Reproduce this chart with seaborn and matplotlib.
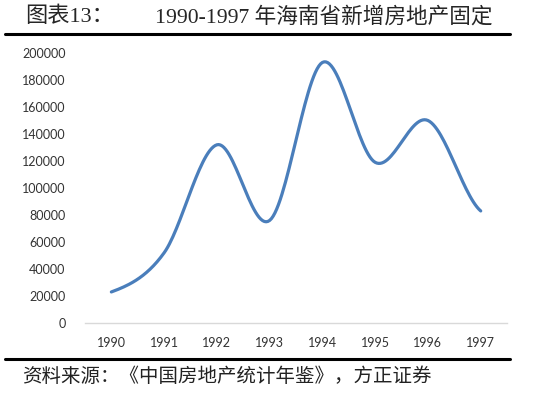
import numpy as np
import pandas as pd
import seaborn as sns
import matplotlib
matplotlib.use("Agg")
import matplotlib.pyplot as plt

years = ["1990", "1991", "1992", "1993", "1994", "1995", "1996", "1997"]
values = [23000, 52000, 132000, 76000, 193000, 119000, 150000, 83000]
y_ticks = [0, 20000, 40000, 60000, 80000, 100000, 120000, 140000, 160000, 180000, 200000]

title_left = "图表13："
title_right = "1990-1997 年海南省新增房地产固定"
source = "资料来源：《中国房地产统计年鉴》，方正证券"

sns.set_style("white")
cjk = ['Liberation Serif', 'Noto Sans CJK SC', 'DejaVu Sans']


def smooth_curve(ys, n=30):
    # excel-like smoothed line (catmull-rom through the points)
    pts = np.array(ys, dtype=float)
    xs_all, ys_all = [], []
    p = np.concatenate([[pts[0]], pts, [pts[-1]]])
    for i in range(len(pts) - 1):
        p0, p1, p2, p3 = p[i], p[i + 1], p[i + 2], p[i + 3]
        t = np.linspace(0, 1, n, endpoint=(i == len(pts) - 2))
        y = 0.5 * ((2 * p1) + (-p0 + p2) * t + (2 * p0 - 5 * p1 + 4 * p2 - p3) * t ** 2
                   + (-p0 + 3 * p1 - 3 * p2 + p3) * t ** 3)
        xs_all.append(i + t)
        ys_all.append(y)
    return np.concatenate(xs_all), np.concatenate(ys_all)


sx, sy = smooth_curve(values)
curve = pd.DataFrame({"x": sx, "y": sy})

fig = plt.figure(figsize=(5.5, 3.97), dpi=100)
ax = fig.add_axes([0.1545, 0.1864, 0.7675, 0.6801])

sns.lineplot(data=curve, x="x", y="y", ax=ax, color="#4a7ebb", lw=2.3, sort=False)

ax.set_xlim(-0.5, len(years) - 0.5)
ax.set_ylim(0, 200000)
ax.set_xticks(range(len(years)))
ax.set_xticklabels(years)
ax.set_yticks(y_ticks)
ax.set_yticklabels([str(v) for v in y_ticks])
ax.set_xlabel("")
ax.set_ylabel("")
for lab in ax.get_xticklabels() + ax.get_yticklabels():
    lab.set_fontfamily("Lato")
    lab.set_fontsize(9)
    lab.set_color("#333333")
ax.tick_params(axis="x", length=0, pad=10)
ax.tick_params(axis="y", length=0, pad=14)
for s in ["top", "right", "left"]:
    ax.spines[s].set_visible(False)
ax.spines["bottom"].set_color("#d9d9d9")
ax.spines["bottom"].set_linewidth(1)

# header / footer
fig.text(25 / 550, 1 - 17 / 397, title_left, family=cjk, fontsize=16, va="center", ha="left")
fig.text(155 / 550, 1 - 17 / 397, title_right, family=cjk, fontsize=15.6, va="center", ha="left")
fig.add_artist(plt.Line2D([5 / 550, 510 / 550], [1 - 34 / 397, 1 - 34 / 397], color="black", lw=2.2))
fig.add_artist(plt.Line2D([5 / 550, 510 / 550], [1 - 359 / 397, 1 - 359 / 397], color="black", lw=2.2))
fig.text(22 / 550, 1 - 377 / 397, source, family=cjk, fontsize=14, va="center", ha="left", color="#222222")

fig.savefig("out.png", dpi=100)
